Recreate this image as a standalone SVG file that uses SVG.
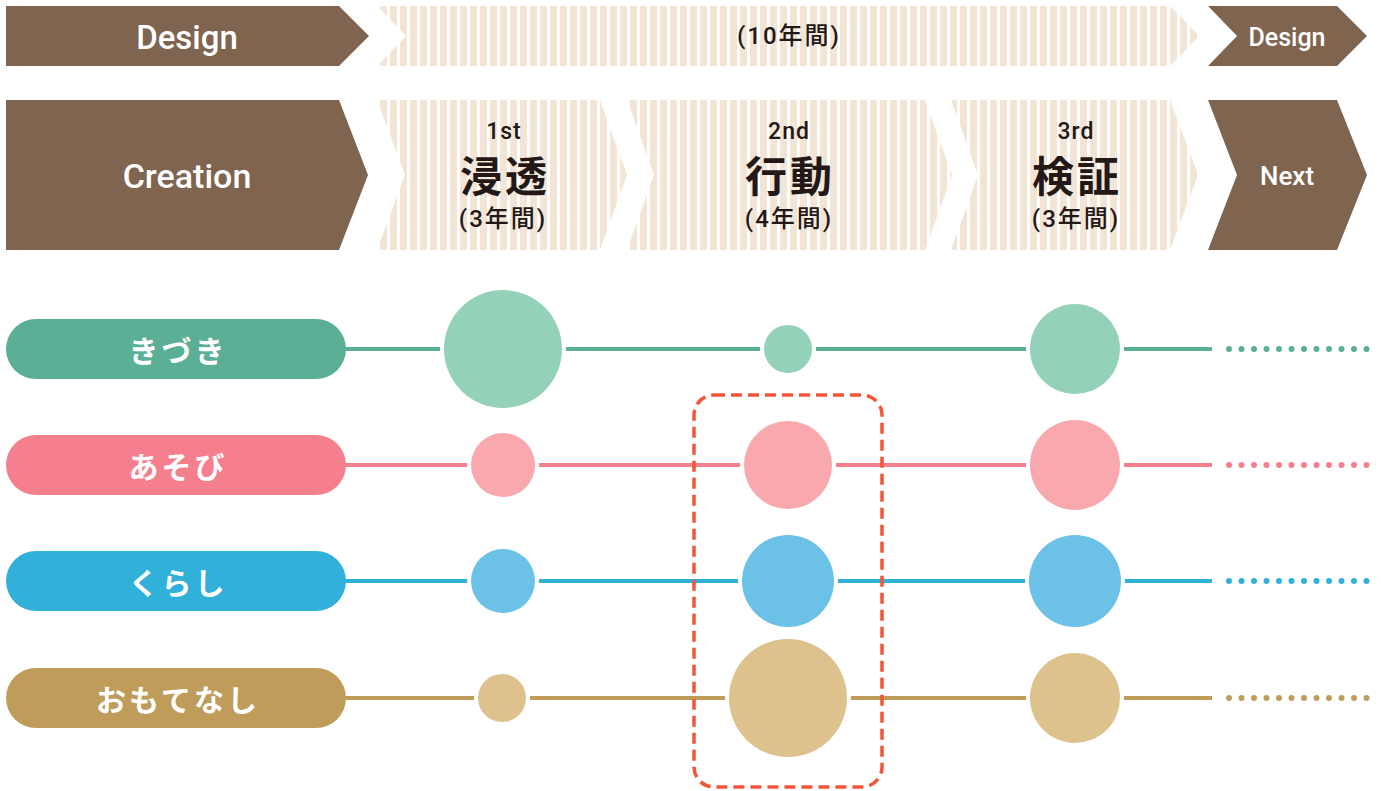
<svg xmlns="http://www.w3.org/2000/svg" width="1381" height="791" viewBox="0 0 1381 791">
<defs>
<pattern id="stripes" width="10" height="10" patternUnits="userSpaceOnUse"><rect width="10" height="10" fill="#fff"/><rect x="0" width="7" height="10" fill="#f3e5d5"/></pattern>
<style>
.brown{fill:#7f6450}
.stripe{fill:url(#stripes)}
.lat{font-family:Roboto,"Liberation Sans",sans-serif;font-weight:500;fill:#fff;text-anchor:middle;dominant-baseline:central}
.dark{font-family:Roboto,"Noto Sans CJK JP",sans-serif;font-weight:500;fill:#231815;text-anchor:middle;dominant-baseline:central}
.yrs{font-size:24px;letter-spacing:2px}
.ord{font-size:23px;letter-spacing:1px}
.jp{font-family:"Noto Sans CJK JP",sans-serif;font-weight:700;fill:#231815;text-anchor:middle;dominant-baseline:central;font-size:42px;letter-spacing:3px}
.pilltxt{font-family:"Noto Sans CJK JP",sans-serif;font-weight:700;fill:#fff;text-anchor:middle;dominant-baseline:central;font-size:30px;letter-spacing:3px}
.gap{fill:#fff}
.solid{stroke-width:4;fill:none}
.dots{stroke-width:6;stroke-linecap:round;stroke-dasharray:0 12.5;fill:none}
</style>
</defs>
<g id="header">
<g id="design-left"><polygon class="brown" points="6,6 339,6 369,36 339,66 6,66"/><text class="lat" x="187" y="37" font-size="33">Design</text></g>
<g id="ten-years"><polygon class="stripe" points="377,6 1170,6 1199,36 1170,66 377,66 406,36"/><text class="dark yrs" x="789" y="36">(10年間)</text></g>
<g id="design-right"><polygon class="brown" points="1208,6 1337,6 1367,36 1337,66 1208,66 1237,36"/><text class="lat" x="1287" y="37" font-size="25">Design</text></g>
<g id="creation"><polygon class="brown" points="6,100 339,100 368,175 339,250 6,250"/><text class="lat" x="187" y="176" font-size="34">Creation</text></g>
<g id="phase1"><polygon class="stripe" points="377,100 600,100 627,175 600,250 377,250 405,175"/><text class="dark ord" x="504" y="131">1st</text><text class="jp" x="505" y="173">浸透</text><text class="dark yrs" x="503" y="219">(3年間)</text></g>
<g id="phase2"><polygon class="stripe" points="627,100 925,100 952,175 925,250 627,250 654,175"/><text class="dark ord" x="789" y="131">2nd</text><text class="jp" x="790" y="173">行動</text><text class="dark yrs" x="789" y="219">(4年間)</text></g>
<g id="phase3"><polygon class="stripe" points="951,100 1170,100 1198,175 1170,250 951,250 978,175"/><text class="dark ord" x="1076" y="131">3rd</text><text class="jp" x="1077" y="173">検証</text><text class="dark yrs" x="1076" y="219">(3年間)</text></g>
<g id="next"><polygon class="brown" points="1208,100 1337,100 1367,175 1337,250 1208,250 1237,175"/><text class="lat" x="1287" y="176" font-size="26">Next</text></g>
</g>
<g id="connectors">
<line class="solid" x1="340" y1="349" x2="1212" y2="349" stroke="#5aaf96"/>
<line class="dots" x1="1229" y1="349" x2="1368" y2="349" stroke="#5aaf96"/>
<line class="solid" x1="340" y1="465" x2="1212" y2="465" stroke="#f57f8d"/>
<line class="dots" x1="1229" y1="465" x2="1368" y2="465" stroke="#f57f8d"/>
<line class="solid" x1="340" y1="581" x2="1212" y2="581" stroke="#31b0da"/>
<line class="dots" x1="1229" y1="581" x2="1368" y2="581" stroke="#31b0da"/>
<line class="solid" x1="340" y1="698" x2="1212" y2="698" stroke="#c09c5a"/>
<line class="dots" x1="1229" y1="698" x2="1368" y2="698" stroke="#c09c5a"/>
</g>
<g id="pills">
<g id="kizuki"><rect x="6" y="319" width="340" height="60" rx="30" fill="#5aaf96"/><text class="pilltxt" x="178" y="349">きづき</text></g>
<g id="asobi"><rect x="6" y="435" width="340" height="60" rx="30" fill="#f57f8d"/><text class="pilltxt" x="178" y="465">あそび</text></g>
<g id="kurashi"><rect x="6" y="551" width="340" height="60" rx="30" fill="#31b0da"/><text class="pilltxt" x="178" y="581">くらし</text></g>
<g id="omotenashi"><rect x="6" y="668" width="340" height="60" rx="30" fill="#c09c5a"/><text class="pilltxt" x="178" y="698">おもてなし</text></g>
</g>
<g id="circles">
<g id="k1"><circle class="gap" cx="503" cy="349" r="63"/><circle cx="503" cy="349" r="59" fill="#93d1b9"/></g>
<g id="k2"><circle class="gap" cx="788" cy="349" r="28"/><circle cx="788" cy="349" r="24" fill="#93d1b9"/></g>
<g id="k3"><circle class="gap" cx="1075" cy="349" r="49"/><circle cx="1075" cy="349" r="45" fill="#93d1b9"/></g>
<g id="a1"><circle class="gap" cx="503" cy="465" r="36"/><circle cx="503" cy="465" r="32" fill="#f9a8ae"/></g>
<g id="a2"><circle class="gap" cx="788" cy="465" r="48"/><circle cx="788" cy="465" r="44" fill="#f9a8ae"/></g>
<g id="a3"><circle class="gap" cx="1075" cy="465" r="49"/><circle cx="1075" cy="465" r="45" fill="#f9a8ae"/></g>
<g id="r1"><circle class="gap" cx="503" cy="581" r="36"/><circle cx="503" cy="581" r="32" fill="#6bc2e6"/></g>
<g id="r2"><circle class="gap" cx="788" cy="581" r="50"/><circle cx="788" cy="581" r="46" fill="#6bc2e6"/></g>
<g id="r3"><circle class="gap" cx="1075" cy="581" r="50"/><circle cx="1075" cy="581" r="46" fill="#6bc2e6"/></g>
<g id="o1"><circle class="gap" cx="502" cy="698" r="28"/><circle cx="502" cy="698" r="24" fill="#ddc28e"/></g>
<g id="o2"><circle class="gap" cx="788" cy="698" r="63"/><circle cx="788" cy="698" r="59" fill="#ddc28e"/></g>
<g id="o3"><circle class="gap" cx="1075" cy="698" r="49"/><circle cx="1075" cy="698" r="45" fill="#ddc28e"/></g>
</g>
<g id="highlight"><rect x="694" y="395" width="188" height="392" rx="20" fill="none" stroke="#f4553a" stroke-width="3.5" stroke-dasharray="11 6"/></g>
</svg>
